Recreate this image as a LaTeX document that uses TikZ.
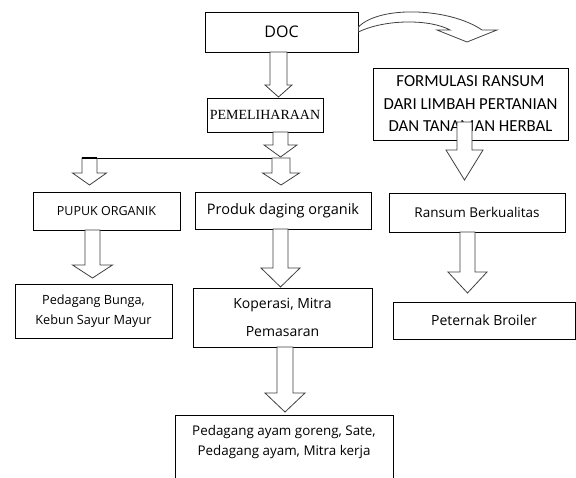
\documentclass[tikz,border=0pt]{standalone}
\usepackage{fontspec}
\setmainfont{Open Sans}
\newfontfamily\serifface{Liberation Serif}
\newfontfamily\calface{Carlito}
\newcommand{\blockdown}[6]{% x, ytop, yneck, ytip, shafthalf, headhalf
  \draw[arrowline] (#1-#5,#2) -- (#1-#5,#3) -- (#1-#6,#3) -- (#1,#4)
    -- (#1+#6,#3) -- (#1+#5,#3) -- (#1+#5,#2) -- cycle;}
\begin{document}
\begin{tikzpicture}[x=1pt,y=-1pt,
  box/.style={draw=black, line width=0.8pt, inner sep=0pt, align=center, fill=white},
  arrowline/.style={draw=black!75, line width=0.8pt, fill=white, line join=miter},
  fs/.style={font=\fontsize{#1}{20}\selectfont}]
\useasboundingbox (0,0) rectangle (576,478);
\fill[white] (0,0) rectangle (576,478);

% boxes
\node[box, fs=16, minimum width=153pt, minimum height=40pt] (doc) at (281.5,32) {DOC};
\node[box, font=\serifface\fontsize{14}{16}\selectfont, minimum width=116pt, minimum height=34pt] (pem) at (265,115) {PEMELIHARAAN};
\node[box, font=\calface\fontsize{16.8}{22.5}\selectfont, minimum width=195pt, minimum height=72pt] (form) at (470.5,104) {FORMULASI RANSUM\\DARI LIMBAH PERTANIAN\\DAN TANAMAN HERBAL};
\node[box, fs=12.5, minimum width=147pt, minimum height=38pt] (pupuk) at (106.5,211) {PUPUK ORGANIK};
\node[box, fs=14.5, minimum width=176pt, minimum height=37pt] (produk) at (283,210.5) {Produk daging organik};
\node[box, fs=13.5, minimum width=176pt, minimum height=39pt] (ransum) at (477,212.5) {Ransum Berkualitas};
\node[box, fs=12.7, minimum width=157pt, minimum height=54pt] (bunga) at (93.5,311) {Pedagang Bunga,\\Kebun Sayur Mayur};
\node[box, font=\fontsize{14}{28}\selectfont, minimum width=179pt, minimum height=59pt] (kop) at (282.5,317.5) {Koperasi, Mitra\\Pemasaran};
\node[box, fs=14, minimum width=182pt, minimum height=37pt] (broiler) at (484,320.5) {Peternak Broiler};
\node[box, minimum width=218pt, minimum height=80pt, anchor=north] (botbox) at (284,415) {};
\node[fs=13.4, align=center, inner sep=0pt] (bot) at (284,442) {Pedagang ayam goreng, Sate,\\Pedagang ayam, Mitra kerja};

% curved block arrow DOC -> FORMULASI
\draw[arrowline] (doc.east |- 0,27) .. controls (380,5) and (450,8) .. (482,30)
  -- (497,30) -- (467,42) -- (437,30) -- (450,30)
  .. controls (430,19) and (385,19) .. (doc.east |- 0,32) -- cycle;

% split line
\coordinate (sl) at (82,158);
\coordinate (sr) at (281,158);
\draw[line width=0.9pt] (sl) -- (sr);

% block arrows
\blockdown{278.5}{52}{85}{97}{8.5}{13.5}
\blockdown{280.5}{132}{145}{157}{7.5}{16.5}
\blockdown{89.5}{158}{173}{185}{7.5}{17}
\blockdown{281}{158}{173}{185}{9}{18.5}
\blockdown{92.5}{230}{265}{278}{7.5}{20}
\blockdown{280.5}{229}{268}{287}{7.5}{19.5}
\blockdown{285}{347}{393}{412}{8}{20}
\blockdown{464.5}{122}{150}{180}{7.5}{18.5}
\blockdown{467.5}{232}{272}{293}{7.5}{19.5}
\draw[line width=1.6pt] (82,158) -- (97,158);
\end{tikzpicture}
\end{document}
